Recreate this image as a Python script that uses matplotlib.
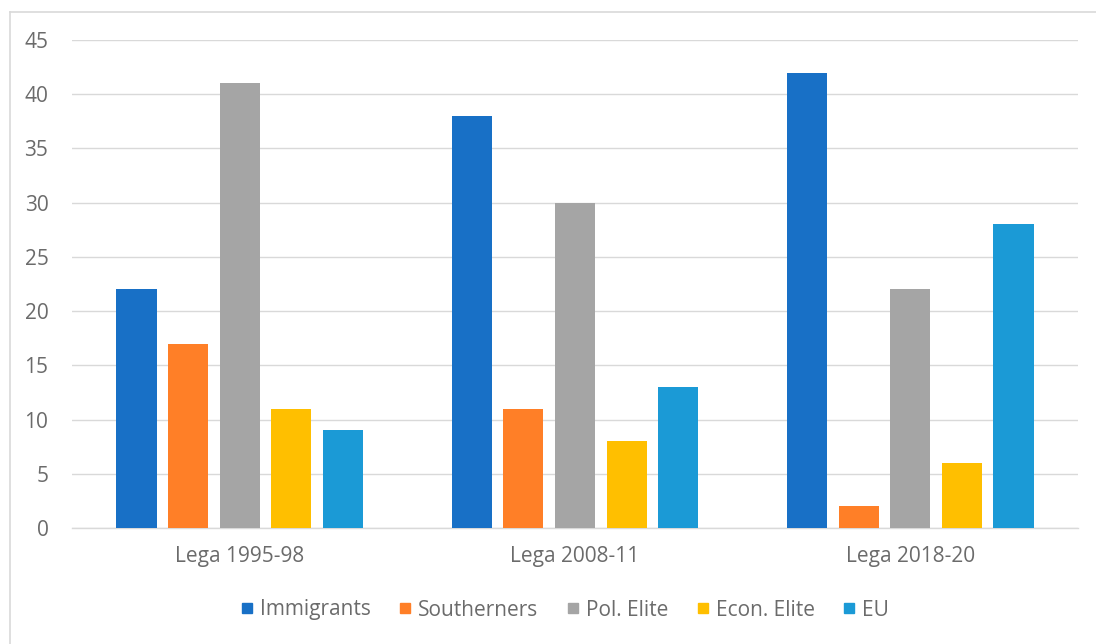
import matplotlib.pyplot as plt
import numpy as np
from matplotlib.lines import Line2D

categories = ["Lega 1995-98", "Lega 2008-11", "Lega 2018-20"]
series = ["Immigrants", "Southerners", "Pol. Elite", "Econ. Elite", "EU"]
immigrants = [22, 38, 42]
southerners = [17, 11, 2]
pol_elite = [41, 30, 22]
econ_elite = [11, 8, 6]
eu = [9, 13, 28]
values = [immigrants, southerners, pol_elite, econ_elite, eu]
colors = ["#1870C6", "#FF7F27", "#A5A5A5", "#FFBF00", "#1B9AD6"]

plt.rcParams['font.family'] = ['Open Sans', 'DejaVu Sans']
text_col = "#6B6B6B"

fig = plt.figure(figsize=(10.96, 6.44), dpi=100)
ax = fig.add_axes([72 / 1096, 116 / 644, 1006 / 1096, 488 / 644])

x = np.arange(len(categories))
width = 0.12
step = 0.154
for i, (name, vals, col) in enumerate(zip(series, values, colors)):
    ax.bar(x + (i - 2) * step, vals, width, color=col, label=name, zorder=3)

ax.set_xlim(-0.5, 2.5)
ax.set_ylim(0, 45)
ax.set_yticks(range(0, 46, 5))
ax.set_xticks(x)
ax.set_xticklabels(categories)
ax.yaxis.grid(True, color="#D9D9D9", linewidth=1, zorder=0)
for s in ["top", "right", "left"]:
    ax.spines[s].set_visible(False)
ax.spines["bottom"].set_color("#D9D9D9")
ax.spines["bottom"].set_linewidth(1)
ax.tick_params(axis="both", length=0, colors=text_col, labelsize=15)
ax.tick_params(axis="y", pad=17)
ax.tick_params(axis="x", pad=13)

handles = [Line2D([], [], marker="s", linestyle="", markersize=7.5,
                  markerfacecolor=c, markeredgecolor=c) for c in colors]
leg = fig.legend(handles, series, loc="center", bbox_to_anchor=(0.514, 1 - 610 / 644),
                 ncol=5, frameon=False, fontsize=15, handletextpad=0.18,
                 columnspacing=1.2, handlelength=0.9)
for t in leg.get_texts():
    t.set_color(text_col)

# chart area border (left and top edges visible)
fig.add_artist(Line2D([10 / 1096, 10 / 1096], [0, 1 - 12 / 644], color="#D9D9D9",
                      linewidth=1.2, transform=fig.transFigure))
fig.add_artist(Line2D([10 / 1096, 1], [1 - 12 / 644, 1 - 12 / 644], color="#D9D9D9",
                      linewidth=1.2, transform=fig.transFigure))

fig.savefig("out.png", dpi=100)
